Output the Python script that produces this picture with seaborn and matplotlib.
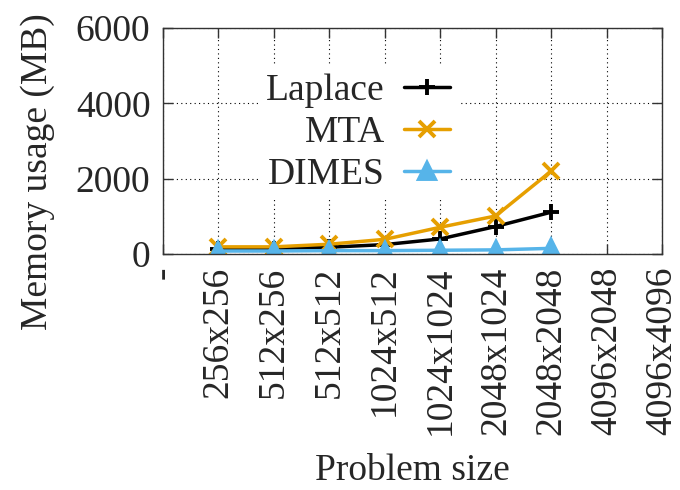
import matplotlib
matplotlib.use("Agg")
import numpy as np
import pandas as pd
import matplotlib.pyplot as plt
import seaborn as sns

# problem sizes on the x axis (first slot is an empty placeholder)
sizes = ["-", "256x256", "512x256", "512x512", "1024x512", "1024x1024",
         "2048x1024", "2048x2048", "4096x2048", "4096x4096"]
measured = ["256x256", "512x256", "512x512", "1024x512", "1024x1024",
            "2048x1024", "2048x2048"]

# memory usage (MB)
laplace = [130, 140, 180, 250, 400, 730, 1110]
mta = [190, 190, 260, 390, 710, 1010, 2200]
dimes = [80, 80, 90, 90, 100, 110, 150]

methods = ["Laplace", "MTA", "DIMES"]
colors = {"Laplace": "#000000", "MTA": "#E69F00", "DIMES": "#56B4E9"}
markers = {"Laplace": "+", "MTA": "x", "DIMES": "^"}

df = pd.DataFrame({
    "size": measured * 3,
    "memory": laplace + mta + dimes,
    "method": ["Laplace"] * 7 + ["MTA"] * 7 + ["DIMES"] * 7,
})
df["pos"] = df["size"].map(sizes.index)

sns.set_style("ticks")
plt.rcParams["font.family"] = ["Liberation Serif", "DejaVu Serif"]
plt.rcParams["font.size"] = 27

fig = plt.figure(figsize=(6.8, 4.9), dpi=100)
ax = fig.add_axes([0.2397, 0.4816, 0.7338, 0.4613])

for m in methods:
    sub = df[df.method == m]
    sns.lineplot(x=sub.pos, y=sub.memory, ax=ax, color=colors[m], label=m,
                 marker=markers[m], markersize=12, markeredgewidth=2.8,
                 linewidth=2.5, markeredgecolor=colors[m])

ax.set_xlim(0, len(sizes) - 1)
ax.set_ylim(0, 6000)
ax.set_xticks(range(len(sizes)))
ax.set_xticklabels(sizes, rotation=90, ha="center", va="top")
ax.set_yticks([0, 2000, 4000, 6000])
ax.tick_params(direction="in", length=7, width=1, top=True, right=True,
               labelsize=27, color="#333333")
ax.tick_params(axis="x", pad=9)
ax.tick_params(axis="y", pad=9)
ax.grid(True, color="black", linestyle=(0, (1, 3)), linewidth=0.8)
for s in ax.spines.values():
    s.set_color("#333333")
    s.set_linewidth(1)

ax.set_xlabel("Problem size", fontsize=27, labelpad=13)
ax.set_ylabel("Memory usage (MB)", fontsize=27)
ax.yaxis.set_label_coords(-0.216, 0.363)

ax.legend(loc="upper right", bbox_to_anchor=(0.591, 0.83), markerfirst=False,
          frameon=True, framealpha=1, edgecolor="none", fancybox=False,
          borderpad=0.2, handlelength=1.25, handletextpad=0.5,
          labelspacing=0.2, fontsize=27, borderaxespad=0)

fig.savefig("out.png", dpi=100)
